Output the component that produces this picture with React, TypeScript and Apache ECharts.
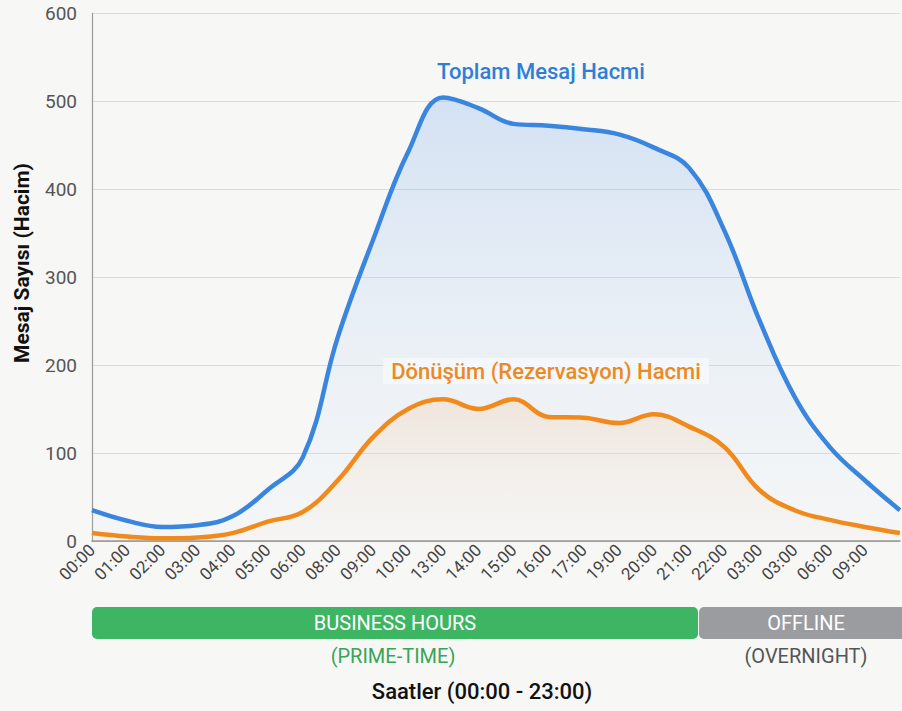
import React, { useEffect, useRef } from "react";
import * as echarts from "echarts";

const hours = [
  "00:00", "01:00", "02:00", "03:00", "04:00", "05:00", "06:00", "08:00",
  "09:00", "10:00", "13:00", "14:00", "15:00", "16:00", "17:00", "19:00",
  "20:00", "21:00", "22:00", "03:00", "03:00", "06:00", "09:00", "",
];
const totalVolume = [35, 23, 16, 18, 28, 58, 95, 232, 342, 442, 504, 492, 474, 472, 468, 462, 447, 424, 353, 251, 164, 107, 69, 35];
const conversionVolume = [9, 5, 3, 4, 9, 22, 33, 69, 118, 150, 161, 150, 161, 141, 140, 134, 144, 130, 107, 58, 35, 24, 16, 9];
const yTicks = [0, 100, 200, 300, 400, 500, 600];

const FONT = "Roboto, 'Noto Sans', sans-serif";
const BG = "#f7f7f6";

export default function App() {
  const ref = useRef<HTMLDivElement>(null);
  useEffect(() => {
    if (!ref.current) return;
    const chart = echarts.init(ref.current, undefined, { renderer: "svg" });
    const centered = { align: "center", verticalAlign: "middle", fontFamily: FONT };
    chart.setOption({
      animation: false,
      backgroundColor: BG,
      textStyle: { fontFamily: FONT },
      grid: { left: 92, right: -11, top: 13, bottom: 170, containLabel: false },
      xAxis: {
        type: "category",
        data: hours,
        boundaryGap: false,
        axisLine: { show: true, lineStyle: { color: "#8a8a8a", width: 1.5 } },
        axisTick: { show: false },
        axisLabel: { interval: 0, rotate: 45, fontSize: 17, color: "#444", margin: 6, fontFamily: FONT },
        splitLine: { show: false },
      },
      yAxis: {
        type: "value",
        min: yTicks[0],
        max: yTicks[yTicks.length - 1],
        interval: 100,
        axisLine: { show: true, lineStyle: { color: "#9a9a9a", width: 1.2 } },
        axisTick: { show: false },
        axisLabel: { fontSize: 19, color: "#555", margin: 15, fontFamily: FONT },
        splitLine: { show: true, lineStyle: { color: "#dcdcdc", width: 1 } },
      },
      series: [
        {
          name: "Toplam Mesaj Hacmi",
          type: "line",
          data: totalVolume,
          smooth: 0.4,
          symbol: "none",
          lineStyle: { color: "#3a86de", width: 4.5 },
          areaStyle: {
            color: new echarts.graphic.LinearGradient(0, 0, 0, 1, [
              { offset: 0, color: "rgba(120,170,235,0.4)" },
              { offset: 1, color: "rgba(200,225,250,0.08)" },
            ]),
          },
          z: 2,
        },
        {
          name: "Dönüşüm (Rezervasyon) Hacmi",
          type: "line",
          data: conversionVolume,
          smooth: 0.4,
          symbol: "none",
          lineStyle: { color: "#f18a1c", width: 4.5 },
          areaStyle: {
            color: new echarts.graphic.LinearGradient(0, 0, 0, 1, [
              { offset: 0, color: "rgba(245,190,140,0.35)" },
              { offset: 1, color: "rgba(250,235,215,0.15)" },
            ]),
          },
          z: 3,
        },
      ],
      graphic: [
        {
          type: "text",
          x: 22,
          y: 263,
          rotation: Math.PI / 2,
          style: { ...centered, text: "Mesaj Sayısı (Hacim)", fontSize: 21, fontWeight: "bold", fill: "#111" },
        },
        {
          type: "text",
          x: 541,
          y: 71,
          z: 10,
          style: {
            ...centered,
            text: "Toplam Mesaj Hacmi",
            fontSize: 22,
            fontWeight: 500,
            fill: "#2f7ed8",
            backgroundColor: BG,
            padding: [2, 8],
          },
        },
        {
          type: "text",
          x: 546,
          y: 371,
          z: 10,
          style: {
            ...centered,
            text: "Dönüşüm (Rezervasyon) Hacmi",
            fontSize: 22,
            fontWeight: 500,
            fill: "#ec8a22",
            backgroundColor: "rgba(244,247,251,0.95)",
            padding: [2, 8],
          },
        },
        {
          type: "rect",
          shape: { x: 92, y: 607, width: 606, height: 32, r: 5 },
          style: { fill: "#3db563" },
        },
        {
          type: "text",
          x: 395,
          y: 623,
          style: { ...centered, text: "BUSINESS HOURS", fontSize: 20, fill: "#ffffff" },
        },
        {
          type: "rect",
          shape: { x: 699, y: 607, width: 220, height: 32, r: 5 },
          style: { fill: "#9b9c9f" },
        },
        {
          type: "text",
          x: 806,
          y: 623,
          style: { ...centered, text: "OFFLINE", fontSize: 20, fill: "#ffffff" },
        },
        {
          type: "text",
          x: 393,
          y: 656,
          style: { ...centered, text: "(PRIME-TIME)", fontSize: 20, fill: "#37a556" },
        },
        {
          type: "text",
          x: 806,
          y: 656,
          style: { ...centered, text: "(OVERNIGHT)", fontSize: 20, fill: "#555" },
        },
        {
          type: "text",
          x: 482,
          y: 691,
          style: { ...centered, text: "Saatler (00:00 - 23:00)", fontSize: 22, fontWeight: 500, fill: "#111" },
        },
      ],
    });
    return () => chart.dispose();
  }, []);
  return (
    <div
      ref={ref}
      style={{ position: "fixed", left: 0, top: 0, width: 902, height: 711 }}
    />
  );
}
